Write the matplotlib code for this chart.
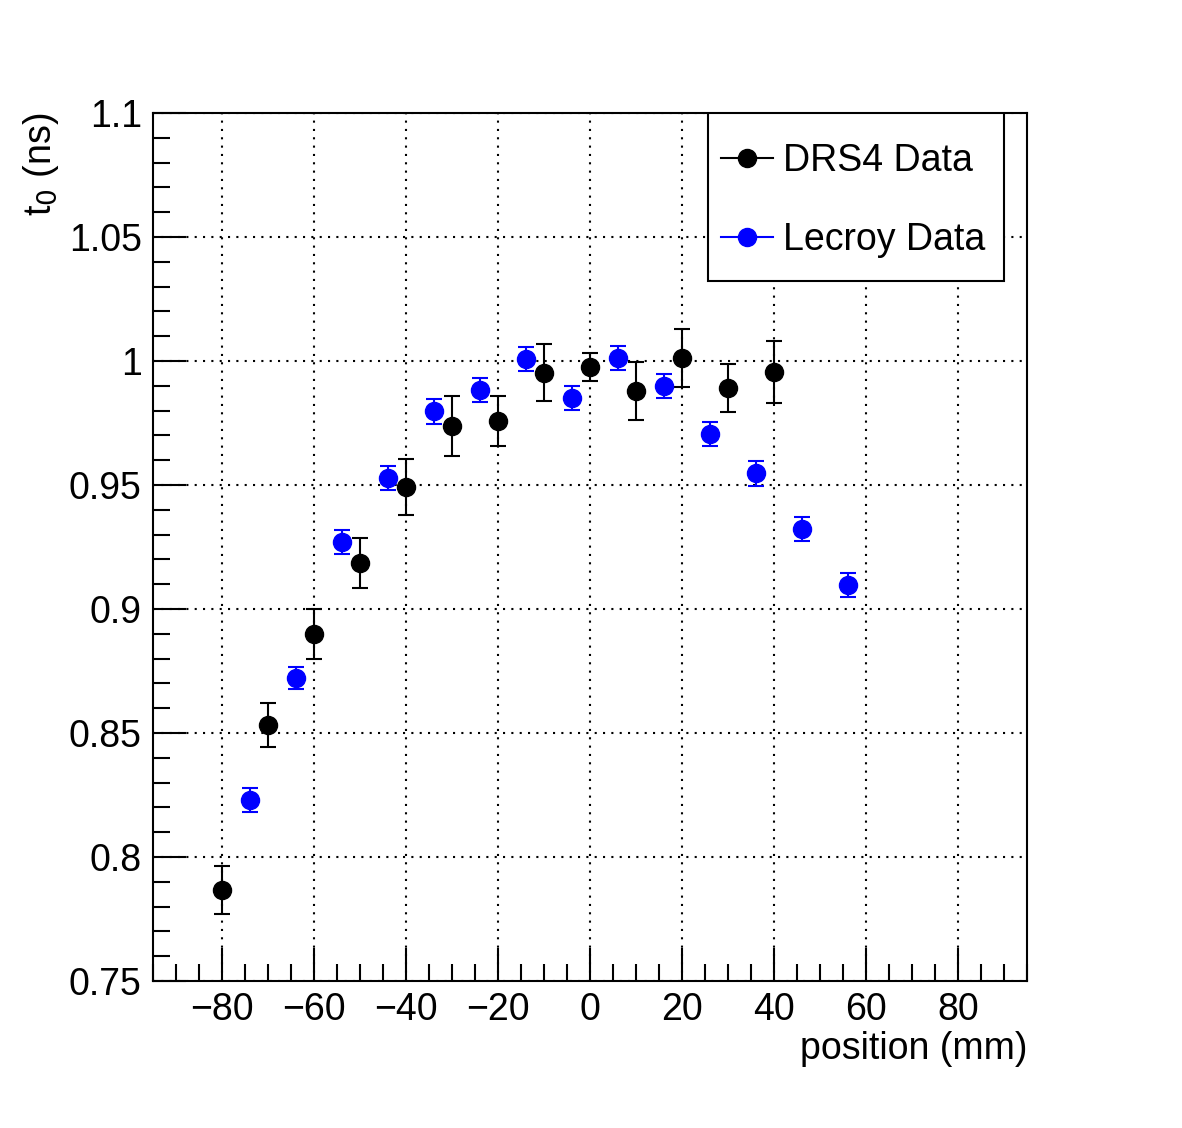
import numpy as np
import matplotlib as mpl
import matplotlib.pyplot as plt
from matplotlib.ticker import MultipleLocator, FuncFormatter
from matplotlib.patches import Rectangle
from matplotlib.lines import Line2D

mpl.rcParams['font.family'] = ['Liberation Sans', 'DejaVu Sans']

# DRS4 data
drs_x = [-80, -70, -60, -50, -40, -30, -20, -10, 0, 10, 20, 30, 40]
drs_y = [0.7867, 0.8532, 0.8899, 0.9185, 0.9492, 0.9738, 0.9758, 0.9952,
         0.9976, 0.9879, 1.0012, 0.9891, 0.9956]
drs_err = [0.0097, 0.0090, 0.0100, 0.0100, 0.0111, 0.0119, 0.0100, 0.0115,
           0.0055, 0.0117, 0.0117, 0.0097, 0.0125]

# Lecroy data
lec_x = [-74, -64, -54, -44, -34, -24, -14, -4, 6, 16, 26, 36, 46, 56]
lec_y = [0.8230, 0.8722, 0.9270, 0.9528, 0.9798, 0.9883, 1.0008, 0.9851,
         1.0012, 0.9899, 0.9706, 0.9548, 0.9323, 0.9097]
lec_err = [0.0050, 0.0045, 0.0050, 0.0050, 0.0050, 0.0050, 0.0050, 0.0050,
           0.0050, 0.0050, 0.0050, 0.0050, 0.0050, 0.0050]

fig = plt.figure(figsize=(11.82, 11.28), dpi=100, facecolor='white')
ax = fig.add_axes([0.1294, 0.1303, 0.7395, 0.7695])

ax.errorbar(drs_x, drs_y, yerr=drs_err, fmt='o', color='black', ms=13,
            elinewidth=1.5, capsize=6, capthick=1.5, zorder=5)
ax.errorbar(lec_x, lec_y, yerr=lec_err, fmt='o', color='#0000ff', ms=13,
            elinewidth=1.5, capsize=6, capthick=1.5, zorder=5)

ax.set_xlim(-95, 95)
ax.set_ylim(0.75, 1.1)

ax.xaxis.set_major_locator(MultipleLocator(20))
ax.xaxis.set_minor_locator(MultipleLocator(5))
ax.yaxis.set_major_locator(MultipleLocator(0.05))
ax.yaxis.set_minor_locator(MultipleLocator(0.01))
ax.yaxis.set_major_formatter(FuncFormatter(lambda v, p: '%g' % round(v, 3)))
ax.xaxis.set_major_formatter(FuncFormatter(lambda v, p: ('%d' % v).replace('-', '\u2212')))

ax.tick_params(which='both', direction='in', top=False, right=False, labelsize=27, width=1.5)
ax.tick_params(which='major', length=24, pad=8)
ax.tick_params(which='minor', length=12)
for s in ax.spines.values():
    s.set_linewidth(1.5)

ax.grid(True, which='major', color='black', linestyle=(0, (1, 3)), linewidth=1.5)
ax.set_axisbelow(True)

ax.set_xlabel('position (mm)', fontsize=27, loc='right', labelpad=2)
ax.set_ylabel('t$_{0}$ (ns)', fontsize=27, loc='top', labelpad=6)

# legend box
ax.add_patch(Rectangle((0.635, 0.806), 0.339, 0.194, transform=ax.transAxes,
                       facecolor='white', edgecolor='black', lw=1.5, zorder=6))
handles = [Line2D([], [], color='black', marker='o', ms=13, lw=1.5),
           Line2D([], [], color='#0000ff', marker='o', ms=13, lw=1.5)]
leg = ax.legend(handles, ['DRS4 Data', 'Lecroy Data'], loc='upper left',
                bbox_to_anchor=(0.626, 0.9895), frameon=False,
                fontsize=27, handlelength=1.4, handletextpad=0.25, labelspacing=1.15,
                borderpad=0.55, borderaxespad=0)
leg.set_zorder(7)

plt.savefig('out.png', dpi=100, facecolor='white')
